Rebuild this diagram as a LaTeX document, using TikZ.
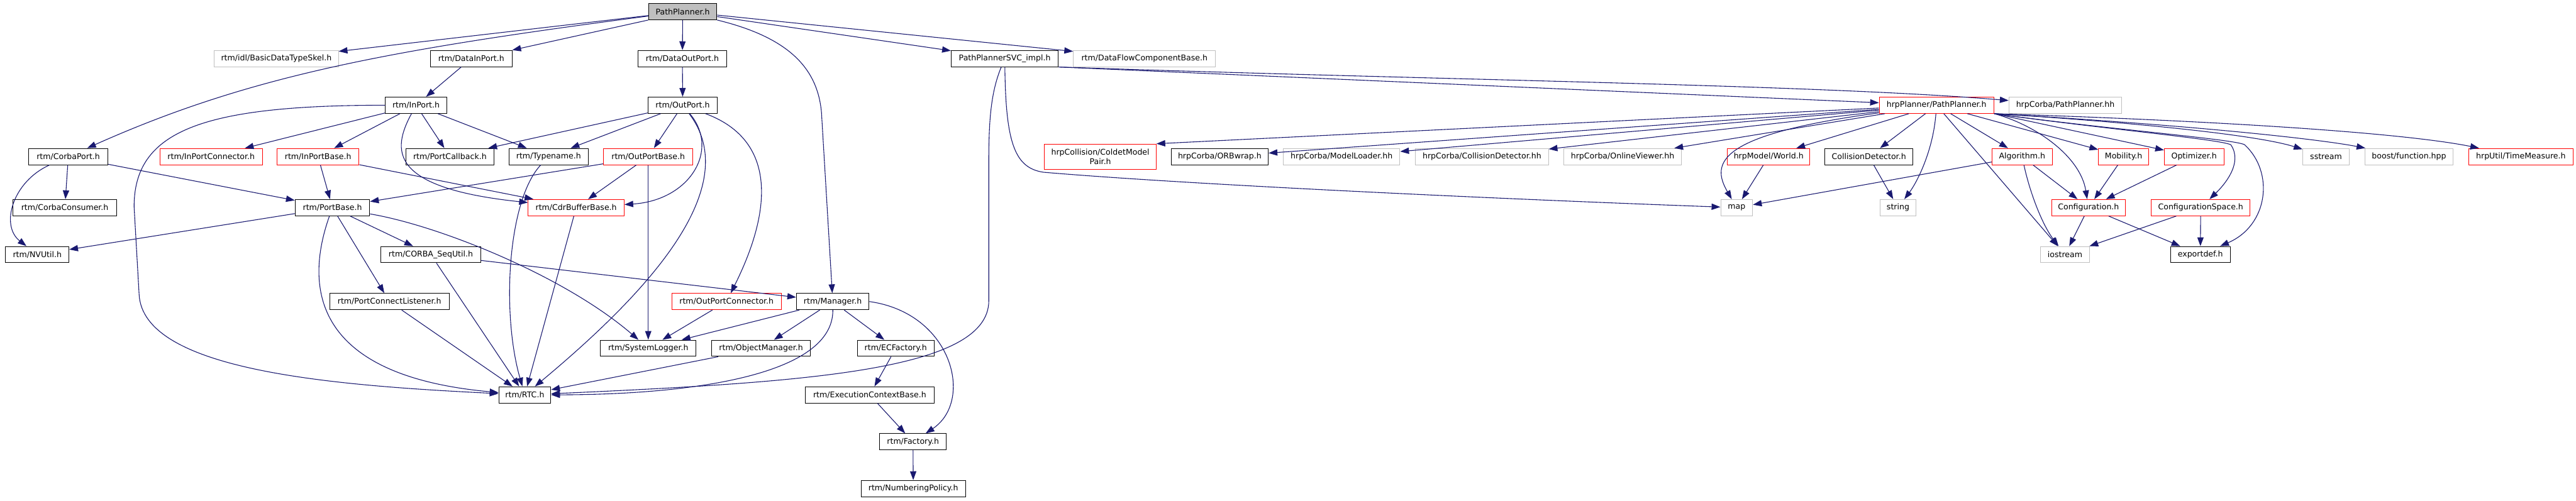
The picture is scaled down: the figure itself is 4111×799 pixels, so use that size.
\documentclass[tikz,border=0pt]{standalone}
\usepackage{fontspec}
\setmainfont{DejaVu Sans}
\usetikzlibrary{arrows.meta}
\definecolor{edgeblue}{HTML}{191970}
\definecolor{extgray}{HTML}{BFBFBF}

\begin{document}
\begin{tikzpicture}[x=1pt,y=-1pt,
  box/.style={draw,line width=1pt,minimum height=26pt,inner sep=0pt,font=\fontsize{12.6}{15}\selectfont},
  hdr/.style={box,draw=black},
  inc/.style={box,draw=red},
  ext/.style={box,draw=extgray},
  dep/.style={draw=edgeblue,line width=1.1pt,-{Triangle[length=14pt,width=10pt]}}]
\useasboundingbox (0,0) rectangle (4111,799);

% the file itself
\node[hdr,fill=extgray,minimum width=109pt] (main) at (1089.5,18.5) {PathPlanner.h};

% documented headers
\foreach \nm/\x/\y/\w/\txt in {
  datain/752/93.5/130/{rtm/DataInPort.h}, dataout/1089/93.5/142/{rtm/DataOutPort.h},
  svc/1603.5/93.5/171/{PathPlannerSVC\_impl.h},
  inport/664/168/98/{rtm/InPort.h}, outport/1089.5/168/111/{rtm/OutPort.h},
  corbaport/109/250/126/{rtm/CorbaPort.h}, portcb/718/250/140/{rtm/PortCallback.h},
  typename/875.5/250/127/{rtm/Typename.h}, orbwrap/1946.5/250/155/{hrpCorba/ORBwrap.h},
  colldet/2982.5/250/141/{CollisionDetector.h},
  consumer/103.5/331.5/165/{rtm/CorbaConsumer.h}, portbase/530.5/331.5/119/{rtm/PortBase.h},
  nvutil/59.5/406.5/101/{rtm/NVUtil.h}, sequtil/687.5/406.5/159/{rtm/CORBA\_SeqUtil.h},
  exportdef/3511.5/406.5/95/{exportdef.h},
  listener/621.5/481.5/191/{rtm/PortConnectListener.h}, manager/1329/481.5/116/{rtm/Manager.h},
  syslogger/1034.5/556/153/{rtm/SystemLogger.h}, objmanager/1214.5/556/157/{rtm/ObjectManager.h},
  ecfactory/1429.5/556/123/{rtm/ECFactory.h},
  rtc/837.5/630.5/83/{rtm/RTC.h}, ecbase/1388/630.5/206/{rtm/ExecutionContextBase.h},
  factory/1457/705.5/106/{rtm/Factory.h}, numbering/1457.5/780/167/{rtm/NumberingPolicy.h}}
  \node[hdr,minimum width=\w pt] (\nm) at (\x,\y) {\txt};

% headers with truncated graphs
\foreach \nm/\x/\y/\w/\txt in {
  hrppp/3090.5/168/183/{hrpPlanner/PathPlanner.h},
  inportconn/337/250/164/{rtm/InPortConnector.h}, inportbase/507.5/250/131/{rtm/InPortBase.h},
  outportbase/1034.5/250/143/{rtm/OutPortBase.h}, world/2822.5/250/131/{hrpModel/World.h},
  algorithm/3227/250/96/{Algorithm.h}, mobility/3389/250/80/{Mobility.h},
  optimizer/3501.5/250/95/{Optimizer.h}, timemeasure/4023/250/166/{hrpUtil/TimeMeasure.h},
  cdrbuffer/919.5/331.5/153/{rtm/CdrBufferBase.h}, configuration/3333/331.5/118/{Configuration.h},
  configspace/3512/331.5/158/{ConfigurationSpace.h},
  outportconn/1159.5/481.5/175/{rtm/OutPortConnector.h}}
  \node[inc,minimum width=\w pt] (\nm) at (\x,\y) {\txt};
\node[inc,minimum width=178pt,minimum height=40pt,align=center] (coldet) at (1756,250)
  {hrpCollision/ColdetModel\\Pair.h};

% external headers
\foreach \nm/\x/\y/\w/\txt in {
  skel/441/93.5/198/{rtm/idl/BasicDataTypeSkel.h}, dfcb/1826.5/93.5/227/{rtm/DataFlowComponentBase.h},
  hrpcorbapp/3296/168/180/{hrpCorba/PathPlanner.hh},
  modelloader/2141/250/186/{hrpCorba/ModelLoader.hh}, cdhh/2365/250/212/{hrpCorba/CollisionDetector.hh},
  onlineviewer/2589.5/250/187/{hrpCorba/OnlineViewer.hh},
  sstream/3712/250/74/{sstream}, boostfn/3844.5/250/141/{boost/function.hpp},
  map/2771.5/331.5/51/{map}, string/3029/331.5/58/{string}, iostream/3295.5/406.5/79/{iostream}}
  \node[ext,minimum width=\w pt] (\nm) at (\x,\y) {\txt};

% straight includes
\foreach \a/\b in {main/skel, main/dataout, main/svc, main/dfcb, datain/inport, dataout/outport,
  inport/inportconn, inport/inportbase, inport/portcb, inport/typename,
  corbaport/consumer, corbaport/portbase, inportbase/portbase, inportbase/cdrbuffer,
  outport/portcb, outport/typename, outport/outportbase,
  outportbase/portbase, outportbase/cdrbuffer, outportbase/syslogger,
  cdrbuffer/rtc, portbase/nvutil, portbase/sequtil, portbase/listener,
  sequtil/rtc, sequtil/manager, listener/rtc, outportconn/syslogger,
  manager/syslogger, manager/objmanager, manager/ecfactory, objmanager/rtc,
  ecfactory/ecbase, ecbase/factory, factory/numbering,
  hrppp/orbwrap, hrppp/modelloader, hrppp/cdhh, hrppp/onlineviewer, hrppp/world,
  hrppp/colldet, hrppp/iostream, hrppp/algorithm, hrppp/mobility,
  world/map, colldet/string, algorithm/map, algorithm/configuration,
  mobility/configuration, optimizer/configuration, configuration/iostream,
  configuration/exportdef, configspace/iostream, configspace/exportdef}
  \draw[dep] (\a) -- (\b);

% curved includes
\draw[dep] (main.south west) -- (datain.north east);
\draw[dep] (main) .. controls (620,80) and (400,120) .. (corbaport);
\draw[dep] (main.south east) .. controls (1260,60) and (1305,110) .. (1311,180) -- (manager);
\draw[dep] (svc.south east) -- (hrppp);
\draw[dep] (svc.south east) .. controls (2300,128) and (2900,135) .. (hrpcorbapp);
\draw[dep] (svc) .. controls (1580,150) and (1578,200) .. (1578,260) -- (1578,480)
  .. controls (1578,590) and (1300,610) .. (rtc);
\draw[dep] (svc) .. controls (1605,230) and (1620,268) .. (1665,275)
  .. controls (1900,295) and (2400,318) .. (map);
\draw[dep] (inport) .. controls (320,168) and (214,210) .. (214,330) -- (222,470)
  .. controls (228,590) and (520,615) .. (rtc);
\draw[dep] (inport) .. controls (625,240) and (620,300) .. (cdrbuffer);
\draw[dep] (corbaport) .. controls (20,290) and (0,360) .. (nvutil);
\draw[dep] (outport) .. controls (1150,240) and (1100,320) .. (cdrbuffer);
\draw[dep] (outport) .. controls (1190,300) and (1030,470) .. (rtc);
\draw[dep] (outport) .. controls (1230,220) and (1240,320) .. (outportconn);
\draw[dep] (typename) .. controls (810,320) and (800,500) .. (rtc);
\draw[dep] (portbase) .. controls (485,460) and (500,600) .. (rtc);
\draw[dep] (portbase) .. controls (700,360) and (900,440) .. (syslogger);
\draw[dep] (manager) .. controls (1330,600) and (1100,630) .. (rtc);
\draw[dep] (manager.east) .. controls (1520,500) and (1555,640) .. (factory);
\draw[dep] (hrppp) -- (coldet.north east);
\draw[dep] (hrppp) .. controls (2740,215) and (2730,260) .. (map);
\draw[dep] (hrppp) .. controls (3085,240) and (3060,290) .. (string);
\draw[dep] (hrppp.south east) .. controls (3250,200) and (3320,250) .. (configuration);
\draw[dep] (hrppp.south east) -- (optimizer);
\draw[dep] (hrppp.south east) .. controls (3400,195) and (3600,215) .. (sstream);
\draw[dep] (hrppp.south east) .. controls (3500,200) and (3700,222) .. (boostfn);
\draw[dep] (hrppp.south east) .. controls (3600,195) and (3850,215) .. (timemeasure);
\draw[dep] (hrppp.south east) .. controls (3350,205) and (3540,222) .. (3560,231)
  .. controls (3580,260) and (3550,295) .. (configspace);
\draw[dep] (hrppp.south east) .. controls (3350,205) and (3565,222) .. (3582,231)
  .. controls (3630,275) and (3620,360) .. (exportdef);
\draw[dep] (algorithm) .. controls (3240,310) and (3260,360) .. (iostream);
\end{tikzpicture}
\end{document}
